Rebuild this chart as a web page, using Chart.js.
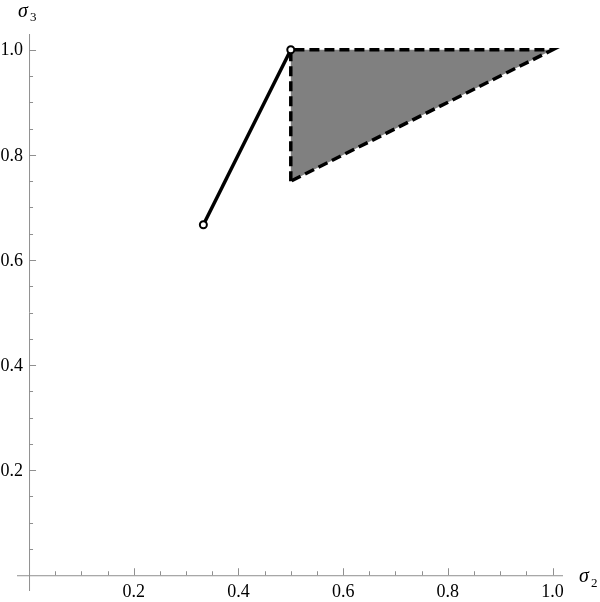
<!DOCTYPE html>
<html>
<head>
<meta charset="utf-8">
<script src="https://cdn.jsdelivr.net/npm/chart.js@4/dist/chart.umd.min.js"></script>
<style>
  html, body { margin: 0; padding: 0; background: #ffffff; }
  canvas { display: block; }
</style>
</head>
<body>
<canvas id="regionChart" width="600" height="602"></canvas>
<script>
// ---- data ----
const segmentX = [0.333, 0.5];
const segmentY = [0.667, 1.0];
const regionX = [0.5, 0.5, 1.0, 0.5];
const regionY = [0.75, 1.0, 1.0, 0.75];
const endpointX = [0.333, 0.5];
const endpointY = [0.667, 1.0];
const majorTicks = [0.2, 0.4, 0.6, 0.8, 1.0];
const tickLabels = ['0.2', '0.4', '0.6', '0.8', '1.0'];
const minorStep = 0.05;

const serif = '"Liberation Serif", "Times New Roman", Times, serif';

function toPoints(xs, ys) {
    return xs.map((x, i) => ({ x: x, y: ys[i] }));
}

// Mathematica style axes crossing at the origin, ticks pointing inward
const originAxes = {
    id: 'originAxes',
    beforeDatasetsDraw(chart) {
        const ctx = chart.ctx;
        const xs = chart.scales.x;
        const ys = chart.scales.y;
        const x0 = xs.getPixelForValue(0);
        const y0 = ys.getPixelForValue(0);

        ctx.save();
        ctx.strokeStyle = '#8f8f8f';
        ctx.lineWidth = 1;

        ctx.beginPath();
        ctx.moveTo(xs.getPixelForValue(xs.min), y0 + 0.5);
        ctx.lineTo(xs.getPixelForValue(xs.max), y0 + 0.5);
        ctx.moveTo(x0 + 0.5, ys.getPixelForValue(ys.min));
        ctx.lineTo(x0 + 0.5, ys.getPixelForValue(ys.max));
        ctx.stroke();

        ctx.beginPath();
        for (let i = 1; i <= 20; i++) {
            const v = i * minorStep;
            const isMajor = i % 4 === 0;
            const len = isMajor ? 7 : 4;
            const px = Math.round(xs.getPixelForValue(v)) + 0.5;
            ctx.moveTo(px, y0);
            ctx.lineTo(px, y0 - len);
            const py = Math.round(ys.getPixelForValue(v)) + 0.5;
            ctx.moveTo(x0, py);
            ctx.lineTo(x0 + len, py);
        }
        ctx.stroke();

        ctx.fillStyle = '#000000';
        ctx.font = '18px ' + serif;
        ctx.textBaseline = 'middle';
        ctx.textAlign = 'center';
        majorTicks.forEach((v, i) => {
            ctx.fillText(tickLabels[i], xs.getPixelForValue(v), y0 + 17);
        });
        ctx.textAlign = 'right';
        majorTicks.forEach((v, i) => {
            ctx.fillText(tickLabels[i], x0 - 6, ys.getPixelForValue(v) + 1);
        });

        // axis labels
        ctx.textAlign = 'left';
        ctx.font = 'italic 20px ' + serif;
        ctx.fillText('σ', 579, y0 + 2);
        ctx.fillText('σ', 18, 12);
        ctx.font = '13px ' + serif;
        ctx.fillText('2', 591, y0 + 8);
        ctx.fillText('3', 30, 18);
        ctx.restore();
    }
};

new Chart(document.getElementById('regionChart'), {
    type: 'scatter',
    data: {
        datasets: [
            {
                label: 'endpoints',
                data: toPoints(endpointX, endpointY),
                showLine: false,
                pointRadius: 3.5,
                pointBackgroundColor: '#ffffff',
                pointBorderColor: '#000000',
                pointBorderWidth: 2,
                clip: false
            },
            {
                label: 'segment',
                data: toPoints(segmentX, segmentY),
                showLine: true,
                borderColor: '#000000',
                borderWidth: 3.5,
                pointRadius: 0,
                clip: false
            },
            {
                label: 'region',
                data: toPoints(regionX, regionY),
                showLine: true,
                fill: 'shape',
                backgroundColor: '#808080',
                borderColor: '#000000',
                borderWidth: 3.5,
                borderDash: [10, 5],
                borderJoinStyle: 'miter',
                pointRadius: 0,
                clip: false
            }
        ]
    },
    options: {
        responsive: false,
        animation: false,
        events: [],
        layout: { padding: { left: 17, right: 37, top: 34, bottom: 11 } },
        plugins: {
            legend: { display: false },
            tooltip: { enabled: false }
        },
        scales: {
            x: { type: 'linear', min: -0.023, max: 1.02, display: false },
            y: { type: 'linear', min: -0.03, max: 1.03, display: false }
        }
    },
    plugins: [originAxes]
});
</script>
</body>
</html>
